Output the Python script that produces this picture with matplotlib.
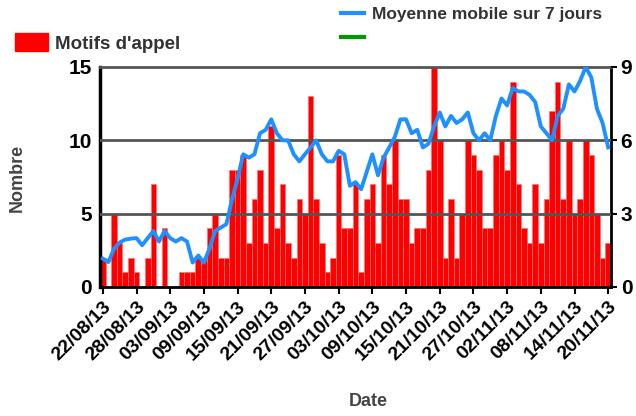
import matplotlib
matplotlib.use('Agg')
import matplotlib.pyplot as plt
from matplotlib.patches import Patch
from matplotlib.lines import Line2D

plt.rcParams['font.family'] = ['Liberation Sans', 'DejaVu Sans']
plt.rcParams['font.weight'] = 'bold'

# daily counts, 22/08/13 -> 20/11/13
motifs = [2, 0, 5, 3, 1, 2, 1, 0, 2, 7, 0, 4, 0, 0, 1,
          1, 1, 2, 2, 4, 5, 2, 2, 8, 8, 9, 3, 6, 8, 3, 11,
          4, 7, 3, 2, 6, 5, 13, 6, 3, 1, 2, 9, 4, 4, 7,
          1, 6, 7, 3, 9, 7, 10, 6, 6, 3, 4, 4, 8, 15, 10,
          2, 6, 2, 5, 10, 9, 8, 4, 4, 9, 10, 8, 14, 7,
          4, 3, 7, 3, 6, 12, 14, 6, 10, 5, 6, 10, 9, 5, 2, 3]

# 7-day moving average (right axis)
moyenne = [1.16, 1.02, 1.57, 1.82, 1.94, 1.98, 2.00, 1.71, 2.00, 2.29,
           1.86, 2.29, 2.00, 1.86, 2.00, 1.86, 1.00, 1.29, 1.00, 1.57,
           2.29, 2.43, 2.57, 3.57, 4.43, 5.43, 5.29, 5.43, 6.29, 6.43,
           6.86, 6.29, 6.00, 6.00, 5.43, 5.14, 5.43, 5.71, 6.00, 5.43,
           5.14, 5.14, 5.57, 5.43, 4.14, 4.29, 4.00, 4.71, 5.43, 4.57,
           5.29, 5.71, 6.14, 6.86, 6.86, 6.29, 6.43, 5.71, 5.86, 6.57,
           7.14, 6.57, 7.00, 6.71, 6.86, 7.14, 6.29, 6.00, 6.29, 6.00,
           7.00, 7.71, 7.43, 8.14, 8.00, 8.00, 7.86, 7.57, 6.57, 6.29,
           6.00, 7.00, 7.29, 8.29, 8.00, 8.43, 9.00, 8.57, 7.29, 6.71,
           5.71]

tick_labels = ['22/08/13', '28/08/13', '03/09/13', '09/09/13', '15/09/13',
               '21/09/13', '27/09/13', '03/10/13', '09/10/13', '15/10/13',
               '21/10/13', '27/10/13', '02/11/13', '08/11/13', '14/11/13',
               '20/11/13']

days = list(range(len(motifs)))
tick_pos = days[::6]

W, H = 636, 416
fig = plt.figure(figsize=(W / 100, H / 100), dpi=100)
ax = fig.add_axes([100 / W, 1 - 287 / H, 511 / W, 220 / H])

ax.bar(days, motifs, width=1.0, color='#ff0000', edgecolor='#ff7070',
       linewidth=0.5, zorder=2)
for yv in [5, 10]:
    ax.axhline(yv, color='#555555', lw=2, zorder=3)

ax.set_xlim(-0.5, 90.5)
ax.set_ylim(0, 15)
ax.set_yticks([0, 5, 10, 15])
ax.set_xticks(tick_pos)
ax.set_xticklabels(tick_labels, rotation=45, ha='right',
                   rotation_mode='anchor', fontsize=14, fontweight='bold')
ax.tick_params(axis='x', direction='out', length=5, width=1.5, pad=3)
ax.tick_params(axis='y', length=0, pad=6, labelsize=15)
for lab in ax.get_yticklabels():
    lab.set_fontweight('bold')

ax.spines['left'].set_linewidth(2.5)
ax.spines['bottom'].set_linewidth(2)
ax.spines['right'].set_linewidth(2)
ax.spines['top'].set_color('#555555')
ax.spines['top'].set_linewidth(2)

ax2 = ax.twinx()
ax2.plot(days, moyenne, color='#1e90ff', lw=2.8, zorder=5)
ax2.set_ylim(0, 9)
ax2.set_yticks([0, 3, 6, 9])
ax2.tick_params(axis='y', direction='out', length=4, width=1.5, pad=3,
                labelsize=15)
for lab in ax2.get_yticklabels():
    lab.set_fontweight('bold')
for s in ax2.spines.values():
    s.set_visible(False)

fig.text(368 / W, 1 - 402 / H, 'Date', ha='center', va='center',
         fontsize=13, fontweight='bold', color='#444444')
fig.text(17 / W, 1 - 178 / H, 'Nombre', ha='center', va='center',
         rotation=90, fontsize=13, fontweight='bold', color='#444444')

fig.legend(handles=[Patch(color='#ff0000')], labels=["Motifs d'appel"],
           loc='center left', bbox_to_anchor=(15 / W, 1 - 43 / H),
           frameon=False, prop={'size': 13.5, 'weight': 'bold'},
           handlelength=1.75, handleheight=1.1, handletextpad=0.4,
           borderpad=0, borderaxespad=0, labelcolor='#333333')

fig.legend(handles=[Line2D([], [], color='#1e90ff', lw=3),
                    Line2D([], [], color='#009900', lw=3)],
           labels=['Moyenne mobile sur 7 jours', ''],
           loc='upper left', bbox_to_anchor=(341 / W, 1 - 7 / H),
           frameon=False, prop={'size': 12.5, 'weight': 'bold'},
           handlelength=1.3, handletextpad=0.5, labelspacing=0.5,
           borderpad=0, borderaxespad=0, labelcolor='#333333')

fig.savefig('out.png', dpi=100)
